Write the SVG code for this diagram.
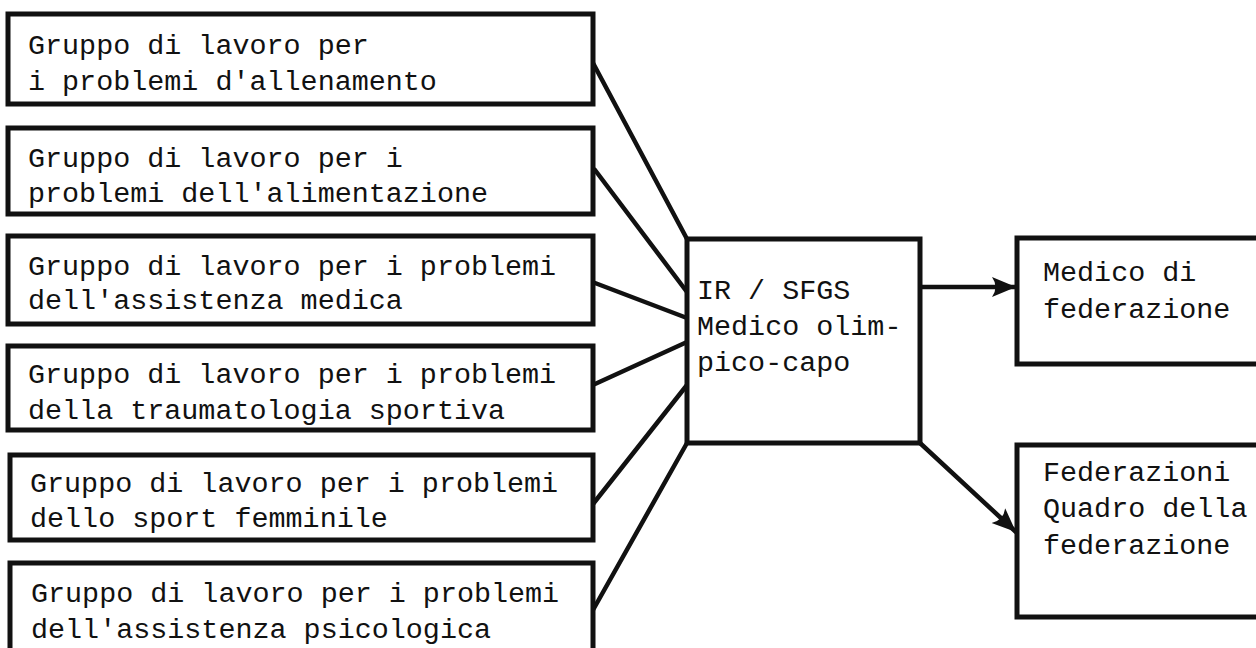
<svg xmlns="http://www.w3.org/2000/svg" width="1256" height="648" viewBox="0 0 1256 648">
<style>
.box{fill:#fff;stroke:#111;stroke-width:5}
.t{font-family:"Liberation Mono","Courier New",monospace;font-size:28.4px;fill:#111}
.c{fill:none;stroke:#111;stroke-width:4.5;stroke-linecap:round}
</style>
<defs>
<marker id="ah" markerUnits="userSpaceOnUse" markerWidth="28" markerHeight="26" refX="24" refY="13" orient="auto">
<path d="M0,3 Q7,13 0,23 L24,13 Z" fill="#111"/>
</marker>
</defs>
<rect width="1256" height="648" fill="#fff"/>
<g id="connectors">
<line class="c" x1="593" y1="63" x2="687" y2="239"/>
<line class="c" x1="595" y1="170" x2="687" y2="292"/>
<line class="c" x1="595" y1="283" x2="687" y2="318"/>
<line class="c" x1="595" y1="384" x2="687" y2="342"/>
<line class="c" x1="593" y1="504" x2="687" y2="385"/>
<line class="c" x1="593" y1="610" x2="687" y2="443"/>
<line class="c" x1="920" y1="287" x2="1016" y2="287" marker-end="url(#ah)"/>
<line class="c" x1="920" y1="443" x2="1016" y2="532" marker-end="url(#ah)"/>
</g>
<g id="g1">
<rect class="box" x="8" y="14" width="585" height="90"/>
<text class="t" x="28" y="54">Gruppo di lavoro per</text>
<text class="t" x="28" y="90">i problemi d'allenamento</text>
</g>
<g id="g2">
<rect class="box" x="8" y="128" width="585" height="86"/>
<text class="t" x="28" y="167">Gruppo di lavoro per i</text>
<text class="t" x="28" y="202">problemi dell'alimentazione</text>
</g>
<g id="g3">
<rect class="box" x="8" y="236" width="585" height="88"/>
<text class="t" x="28" y="275">Gruppo di lavoro per i problemi</text>
<text class="t" x="28" y="309">dell'assistenza medica</text>
</g>
<g id="g4">
<rect class="box" x="8" y="346" width="585" height="84"/>
<text class="t" x="28" y="383">Gruppo di lavoro per i problemi</text>
<text class="t" x="28" y="419">della traumatologia sportiva</text>
</g>
<g id="g5">
<rect class="box" x="10" y="455" width="583" height="85"/>
<text class="t" x="30" y="492">Gruppo di lavoro per i problemi</text>
<text class="t" x="30" y="527">dello sport femminile</text>
</g>
<g id="g6">
<rect class="box" x="10" y="563" width="583" height="110"/>
<text class="t" x="31" y="602">Gruppo di lavoro per i problemi</text>
<text class="t" x="31" y="638">dell'assistenza psicologica</text>
</g>
<g id="center">
<rect class="box" x="687" y="239" width="233" height="204"/>
<text class="t" x="697" y="299">IR / SFGS</text>
<text class="t" x="697" y="335">Medico olim-</text>
<text class="t" x="697" y="371">pico-capo</text>
</g>
<g id="medico">
<rect class="box" x="1017" y="238" width="260" height="126"/>
<text class="t" x="1043" y="281">Medico di</text>
<text class="t" x="1043" y="318">federazione</text>
</g>
<g id="federazioni">
<rect class="box" x="1017" y="445" width="260" height="172"/>
<text class="t" x="1043" y="481">Federazioni</text>
<text class="t" x="1043" y="517">Quadro della</text>
<text class="t" x="1043" y="554">federazione</text>
</g>
</svg>
